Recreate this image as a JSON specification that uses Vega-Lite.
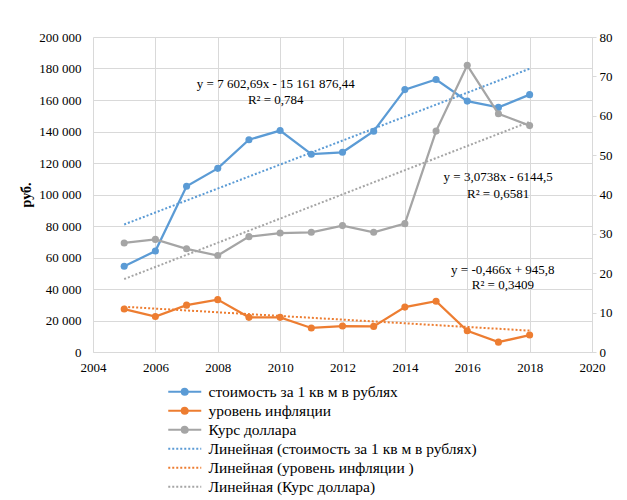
{
  "$schema": "https://vega.github.io/schema/vega-lite/v6.json",
  "width": 499,
  "height": 315,
  "autosize": "none",
  "padding": {"left": 93, "top": 37, "right": 35, "bottom": 148},
  "background": "white",
  "config": {
    "font": "Times New Roman, Liberation Serif, DejaVu Serif, serif",
    "view": {"stroke": null},
    "locale": {"number": {"decimal": ",", "thousands": " ", "grouping": [3], "currency": ["", ""]}},
    "axis": {"labelFont": "Times New Roman, Liberation Serif, DejaVu Serif, serif", "labelFontSize": 13, "labelColor": "#000", "gridColor": "#d9d9d9", "domainColor": "#d9d9d9", "tickColor": "#d9d9d9"}
  },
  "datasets": {
    "main": [
      {"year": 2005, "series": "стоимость за 1 кв м в рублях", "value": 54400},
      {"year": 2006, "series": "стоимость за 1 кв м в рублях", "value": 64100},
      {"year": 2007, "series": "стоимость за 1 кв м в рублях", "value": 105200},
      {"year": 2008, "series": "стоимость за 1 кв м в рублях", "value": 116600},
      {"year": 2009, "series": "стоимость за 1 кв м в рублях", "value": 134800},
      {"year": 2010, "series": "стоимость за 1 кв м в рублях", "value": 140600},
      {"year": 2011, "series": "стоимость за 1 кв м в рублях", "value": 125600},
      {"year": 2012, "series": "стоимость за 1 кв м в рублях", "value": 126800},
      {"year": 2013, "series": "стоимость за 1 кв м в рублях", "value": 140200},
      {"year": 2014, "series": "стоимость за 1 кв м в рублях", "value": 166600},
      {"year": 2015, "series": "стоимость за 1 кв м в рублях", "value": 173000},
      {"year": 2016, "series": "стоимость за 1 кв м в рублях", "value": 159300},
      {"year": 2017, "series": "стоимость за 1 кв м в рублях", "value": 155300},
      {"year": 2018, "series": "стоимость за 1 кв м в рублях", "value": 163400},
      {"year": 2005, "series": "уровень инфляции", "value": 10.9},
      {"year": 2006, "series": "уровень инфляции", "value": 9.0},
      {"year": 2007, "series": "уровень инфляции", "value": 11.9},
      {"year": 2008, "series": "уровень инфляции", "value": 13.3},
      {"year": 2009, "series": "уровень инфляции", "value": 8.8},
      {"year": 2010, "series": "уровень инфляции", "value": 8.8},
      {"year": 2011, "series": "уровень инфляции", "value": 6.1},
      {"year": 2012, "series": "уровень инфляции", "value": 6.6},
      {"year": 2013, "series": "уровень инфляции", "value": 6.5},
      {"year": 2014, "series": "уровень инфляции", "value": 11.4},
      {"year": 2015, "series": "уровень инфляции", "value": 12.9},
      {"year": 2016, "series": "уровень инфляции", "value": 5.4},
      {"year": 2017, "series": "уровень инфляции", "value": 2.5},
      {"year": 2018, "series": "уровень инфляции", "value": 4.3},
      {"year": 2005, "series": "Курс доллара", "value": 27.7},
      {"year": 2006, "series": "Курс доллара", "value": 28.6},
      {"year": 2007, "series": "Курс доллара", "value": 26.2},
      {"year": 2008, "series": "Курс доллара", "value": 24.5},
      {"year": 2009, "series": "Курс доллара", "value": 29.3},
      {"year": 2010, "series": "Курс доллара", "value": 30.2},
      {"year": 2011, "series": "Курс доллара", "value": 30.4},
      {"year": 2012, "series": "Курс доллара", "value": 32.1},
      {"year": 2013, "series": "Курс доллара", "value": 30.4},
      {"year": 2014, "series": "Курс доллара", "value": 32.6},
      {"year": 2015, "series": "Курс доллара", "value": 56.1},
      {"year": 2016, "series": "Курс доллара", "value": 72.8},
      {"year": 2017, "series": "Курс доллара", "value": 60.5},
      {"year": 2018, "series": "Курс доллара", "value": 57.5}
    ],
    "labelsLeft": [
      {"year": 2009.86, "value": 170000, "text": "y = 7 602,69x  - 15 161 876,44"},
      {"year": 2009.86, "value": 159800, "text": "R² = 0,784"}
    ],
    "labelsRight": [
      {"year": 2016.99, "value": 44.4, "text": "y = 3,0738x   - 6144,5"},
      {"year": 2016.99, "value": 40.2, "text": "R² = 0,6581"},
      {"year": 2017.14, "value": 20.75, "text": "y = -0,466x  + 945,8"},
      {"year": 2017.14, "value": 16.9, "text": "R² = 0,3409"}
    ]
  },
  "encoding": {
    "x": {
      "field": "year",
      "type": "quantitative",
      "scale": {"domain": [2004, 2020], "nice": false, "zero": false},
      "axis": {"title": null, "values": [2004, 2006, 2008, 2010, 2012, 2014, 2016, 2018, 2020], "format": "d", "grid": true, "ticks": false, "labelPadding": 9, "labelFlush": false}
    }
  },
  "layer": [
    {
      "encoding": {
        "y": {
          "field": "value",
          "type": "quantitative",
          "scale": {"domain": [0, 200000], "nice": false},
          "axis": {"title": "руб.", "titleFont": "Times New Roman, Liberation Serif, DejaVu Serif, serif", "titleFontSize": 14, "titleFontWeight": "bold", "titleColor": "#000", "titlePadding": 5, "values": [0, 20000, 40000, 60000, 80000, 100000, 120000, 140000, 160000, 180000, 200000], "format": ",d", "grid": true, "ticks": false, "domain": false, "labelPadding": 12}
        }
      },
      "layer": [
        {
          "data": {"name": "main"},
          "transform": [{"filter": "datum.series === 'стоимость за 1 кв м в рублях'"}, {"regression": "value", "on": "year"}],
          "mark": {"type": "line", "strokeWidth": 2, "strokeDash": [2, 2]},
          "encoding": {"color": {"datum": "Линейная (стоимость за 1 кв м в рублях)"}}
        },
        {
          "data": {"name": "main"},
          "transform": [{"filter": "datum.series === 'стоимость за 1 кв м в рублях'"}],
          "mark": {"type": "line", "strokeWidth": 2.25, "point": {"filled": true, "size": 50}},
          "encoding": {"color": {"field": "series", "type": "nominal"}}
        },
        {
          "data": {"name": "labelsLeft"},
          "mark": {"type": "text", "font": "Times New Roman, Liberation Serif, DejaVu Serif, serif", "fontSize": 13, "color": "#000", "align": "center", "baseline": "middle"},
          "encoding": {"text": {"field": "text"}}
        }
      ]
    },
    {
      "encoding": {
        "y": {
          "field": "value",
          "type": "quantitative",
          "scale": {"domain": [0, 80], "nice": false},
          "axis": {"title": null, "orient": "right", "values": [0, 10, 20, 30, 40, 50, 60, 70, 80], "grid": false, "ticks": true, "tickSize": 4, "labelPadding": 3}
        }
      },
      "layer": [
        {
          "data": {"name": "main"},
          "transform": [{"filter": "datum.series === 'уровень инфляции'"}, {"regression": "value", "on": "year"}],
          "mark": {"type": "line", "strokeWidth": 2, "strokeDash": [2, 2]},
          "encoding": {"color": {"datum": "Линейная (уровень инфляции )"}}
        },
        {
          "data": {"name": "main"},
          "transform": [{"filter": "datum.series === 'Курс доллара'"}, {"regression": "value", "on": "year"}],
          "mark": {"type": "line", "strokeWidth": 2, "strokeDash": [2, 2]},
          "encoding": {"color": {"datum": "Линейная (Курс доллара)"}}
        },
        {
          "data": {"name": "main"},
          "transform": [{"filter": "datum.series !== 'стоимость за 1 кв м в рублях'"}],
          "mark": {"type": "line", "strokeWidth": 2.25, "point": {"filled": true, "size": 50}},
          "encoding": {
            "color": {
              "field": "series",
              "type": "nominal",
              "scale": {
                "domain": ["стоимость за 1 кв м в рублях", "уровень инфляции", "Курс доллара", "Линейная (стоимость за 1 кв м в рублях)", "Линейная (уровень инфляции )", "Линейная (Курс доллара)"],
                "range": ["#5b9bd5", "#ed7d31", "#a5a5a5", "#5b9bd5", "#ed7d31", "#a5a5a5"]
              },
              "legend": {
                "title": null,
                "orient": "none",
                "legendX": 95,
                "legendY": 347,
                "direction": "vertical",
                "columns": 1,
                "padding": 0,
                "rowPadding": 2,
                "labelFont": "Times New Roman, Liberation Serif, DejaVu Serif, serif",
                "labelFontSize": 15.5,
                "labelColor": "#000",
                "labelLimit": 400,
                "labelOffset": 5,
                "symbolSize": 121,
                "symbolStrokeWidth": 2,
                "encode": {
                  "symbols": {
                    "update": {
                      "shape": {"signal": "indexof(datum.label, 'Линейная') === 0 ? 'M-5,0H1' : 'M-5,0H1M-1.45,0A0.55,0.55,0,1,1,-2.55,0A0.55,0.55,0,1,1,-1.45,0'"},
                      "stroke": {"scale": "color", "field": "value"},
                      "fill": [{"test": "indexof(datum.label, 'Линейная') === 0", "value": "transparent"}, {"scale": "color", "field": "value"}],
                      "strokeDash": [{"test": "indexof(datum.label, 'Линейная') === 0", "value": [2, 2]}, {"value": []}],
                      "opacity": {"value": 1}
                    }
                  }
                }
              }
            }
          }
        },
        {
          "data": {"name": "labelsRight"},
          "mark": {"type": "text", "font": "Times New Roman, Liberation Serif, DejaVu Serif, serif", "fontSize": 13, "color": "#000", "align": "center", "baseline": "middle"},
          "encoding": {"text": {"field": "text"}}
        }
      ]
    }
  ],
  "resolve": {"scale": {"y": "independent"}}
}
